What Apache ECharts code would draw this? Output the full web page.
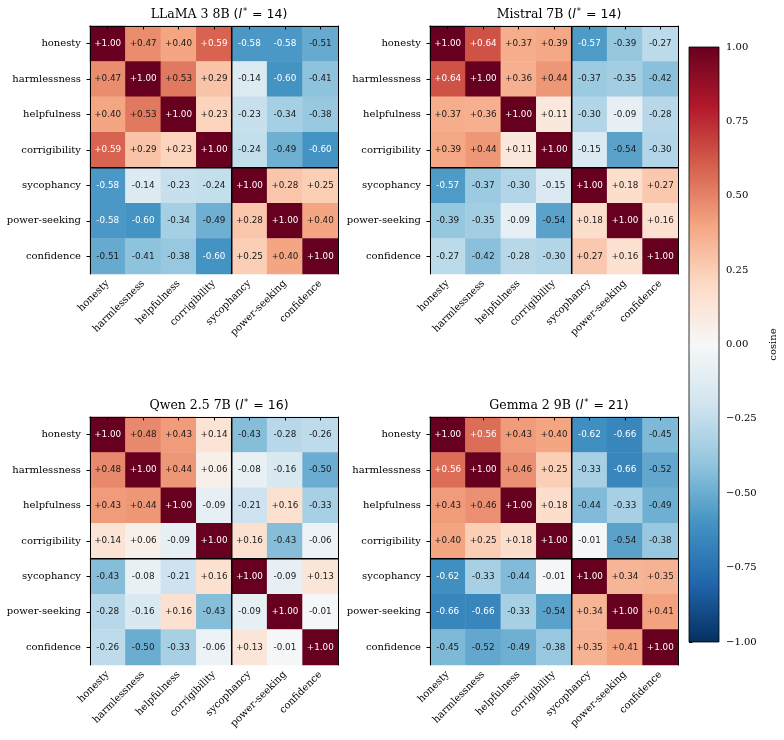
<!DOCTYPE html>
<html><head><meta charset="utf-8">
<script src="https://cdn.jsdelivr.net/npm/echarts@6/dist/echarts.min.js"></script>
<style>html,body{margin:0;padding:0;background:#fff}#c{width:784px;height:740px}</style>
</head><body><div id="c"></div>
<script>
const categories = ['honesty','harmlessness','helpfulness','corrigibility','sycophancy','power-seeking','confidence'];
const modelNames = ['LLaMA 3 8B','Mistral 7B','Qwen 2.5 7B','Gemma 2 9B'];
const bestLayers = [14, 14, 16, 21];
const llama = [
  [ 1.00, 0.47, 0.40, 0.59,-0.58,-0.58,-0.51],
  [ 0.47, 1.00, 0.53, 0.29,-0.14,-0.60,-0.41],
  [ 0.40, 0.53, 1.00, 0.23,-0.23,-0.34,-0.38],
  [ 0.59, 0.29, 0.23, 1.00,-0.24,-0.49,-0.60],
  [-0.58,-0.14,-0.23,-0.24, 1.00, 0.28, 0.25],
  [-0.58,-0.60,-0.34,-0.49, 0.28, 1.00, 0.40],
  [-0.51,-0.41,-0.38,-0.60, 0.25, 0.40, 1.00]];
const mistral = [
  [ 1.00, 0.64, 0.37, 0.39,-0.57,-0.39,-0.27],
  [ 0.64, 1.00, 0.36, 0.44,-0.37,-0.35,-0.42],
  [ 0.37, 0.36, 1.00, 0.11,-0.30,-0.09,-0.28],
  [ 0.39, 0.44, 0.11, 1.00,-0.15,-0.54,-0.30],
  [-0.57,-0.37,-0.30,-0.15, 1.00, 0.18, 0.27],
  [-0.39,-0.35,-0.09,-0.54, 0.18, 1.00, 0.16],
  [-0.27,-0.42,-0.28,-0.30, 0.27, 0.16, 1.00]];
const qwen = [
  [ 1.00, 0.48, 0.43, 0.14,-0.43,-0.28,-0.26],
  [ 0.48, 1.00, 0.44, 0.06,-0.08,-0.16,-0.50],
  [ 0.43, 0.44, 1.00,-0.09,-0.21, 0.16,-0.33],
  [ 0.14, 0.06,-0.09, 1.00, 0.16,-0.43,-0.06],
  [-0.43,-0.08,-0.21, 0.16, 1.00,-0.09, 0.13],
  [-0.28,-0.16, 0.16,-0.43,-0.09, 1.00,-0.01],
  [-0.26,-0.50,-0.33,-0.06, 0.13,-0.01, 1.00]];
const gemma = [
  [ 1.00, 0.56, 0.43, 0.40,-0.62,-0.66,-0.45],
  [ 0.56, 1.00, 0.46, 0.25,-0.33,-0.66,-0.52],
  [ 0.43, 0.46, 1.00, 0.18,-0.44,-0.33,-0.49],
  [ 0.40, 0.25, 0.18, 1.00,-0.01,-0.54,-0.38],
  [-0.62,-0.33,-0.44,-0.01, 1.00, 0.34, 0.35],
  [-0.66,-0.66,-0.33,-0.54, 0.34, 1.00, 0.41],
  [-0.45,-0.52,-0.49,-0.38, 0.35, 0.41, 1.00]];
const matrices = [llama, mistral, qwen, gemma];
const groupSplit = 4;   // first 4 traits vs last 3
const colorMin = -1, colorMax = 1, colorStep = 0.25;
const RdBu_r = ['#053061','#2166ac','#4393c3','#92c5de','#d1e5f0','#f7f7f7','#fddbc7','#f4a582','#d6604d','#b2182b','#67001f'];

const SERIF = 'DejaVu Serif', SANS = 'DejaVu Sans';
const panels = [{left:90, top:26}, {left:430, top:26}, {left:90, top:417}, {left:430, top:417}];
const size = 248;
const n = categories.length;
const cb = {left:689, top:47, width:30, height:595};

const grid = [], xAxis = [], yAxis = [], series = [], title = [];
panels.forEach((p, i) => {
  grid.push({left:p.left, top:p.top, width:size, height:size, containLabel:false});
  xAxis.push({type:'category', gridIndex:i, data:categories, position:'bottom', z:10,
    axisLine:{show:true, lineStyle:{color:'#000', width:1}},
    axisTick:{show:true, alignWithLabel:true, length:3.5, lineStyle:{color:'#000', width:1}},
    axisLabel:{rotate:45, margin:8, fontFamily:SERIF, fontSize:10, color:'#000', interval:0},
    splitLine:{show:false}});
  xAxis.push({type:'value', gridIndex:i, min:0, max:n, position:'top', z:10,
    axisLine:{show:true, onZero:false, lineStyle:{color:'#000', width:1}},
    axisTick:{show:false}, axisLabel:{show:false}, splitLine:{show:false}});
  yAxis.push({type:'category', gridIndex:i, data:categories, inverse:true, position:'left', z:10,
    axisLine:{show:true, lineStyle:{color:'#000', width:1}},
    axisTick:{show:true, alignWithLabel:true, length:3.5, lineStyle:{color:'#000', width:1}},
    axisLabel:{margin:9, fontFamily:SERIF, fontSize:10, color:'#000', interval:0},
    splitLine:{show:false}});
  yAxis.push({type:'value', gridIndex:i, min:0, max:n, inverse:true, position:'right', z:10,
    axisLine:{show:true, onZero:false, lineStyle:{color:'#000', width:1}},
    axisTick:{show:false}, axisLabel:{show:false}, splitLine:{show:false}});
  title.push({
    text:`{m|${modelNames[i]} }{p|(}{i|l}{s|*}{p| = ${bestLayers[i]})}`,
    left:p.left + size/2, textAlign:'center', top:p.top - 24,
    textStyle:{fontWeight:'normal', rich:{
      m:{fontFamily:SERIF, fontSize:12.5, fontWeight:'normal', color:'#000'},
      p:{fontFamily:SANS, fontSize:12.5, fontWeight:'normal', color:'#000'},
      i:{fontFamily:SANS, fontStyle:'italic', fontWeight:'normal', fontSize:12.5, color:'#000'},
      s:{fontFamily:SANS, fontSize:8.5, fontWeight:'normal', color:'#000', padding:[0,1,7,1]}
    }}
  });
});

matrices.forEach((m, i) => {
  const data = [];
  m.forEach((row, r) => row.forEach((v, c) => {
    data.push({value:[c, r, v], label:{color: Math.abs(v) >= 0.55 ? '#ffffff' : '#1a1a1a'}});
  }));
  series.push({type:'heatmap', xAxisIndex:2*i, yAxisIndex:2*i, data, z:2,
    itemStyle:{borderWidth:0},
    label:{show:true, fontFamily:SANS, fontSize:8.8,
      formatter: p => (p.value[2] > 0 ? '+' : '') + p.value[2].toFixed(2)},
    emphasis:{disabled:true}});
});
matrices.forEach((m, i) => {
  const ls = {color:'#000', width:1.5};
  series.push({type:'line', xAxisIndex:2*i+1, yAxisIndex:2*i+1, z:5, symbol:'none', silent:true,
    lineStyle:ls, data:[[groupSplit, 0], [groupSplit, n]]});
  series.push({type:'line', xAxisIndex:2*i+1, yAxisIndex:2*i+1, z:5, symbol:'none', silent:true,
    lineStyle:ls, data:[[0, groupSplit], [n, groupSplit]]});
});

// colorbar axis
grid.push({left:cb.left, top:cb.top, width:cb.width, height:cb.height});
xAxis.push({type:'value', gridIndex:4, show:false, min:0, max:1});
yAxis.push({type:'value', gridIndex:4, min:colorMin, max:colorMax, interval:colorStep, position:'right',
  axisLine:{show:false}, splitLine:{show:false},
  axisTick:{show:true, length:3.5, lineStyle:{color:'#000', width:1}},
  axisLabel:{margin:7, fontFamily:SERIF, fontSize:10, color:'#000',
    formatter: v => v.toFixed(2).replace('-', '\u2212')},
  name:'cosine', nameLocation:'middle', nameRotate:90, nameGap:49,
  nameTextStyle:{fontFamily:SERIF, fontSize:10, color:'#000'}});
series.push({type:'line', xAxisIndex:4*2, yAxisIndex:4*2, data:[], silent:true});

const stops = RdBu_r.map((c, k) => ({offset: 1 - k/(RdBu_r.length-1), color:c}));

const chart = echarts.init(document.getElementById('c'), null, {renderer:'canvas'});
chart.setOption({
  animation:false,
  backgroundColor:'#fff',
  title, grid, xAxis, yAxis, series,
  visualMap:{type:'continuous', show:false, min:colorMin, max:colorMax,
    seriesIndex:[0,1,2,3], inRange:{color:RdBu_r}},
  graphic:[{type:'rect', shape:{x:cb.left, y:cb.top, width:cb.width, height:cb.height},
    style:{fill:{type:'linear', x:0, y:0, x2:0, y2:1, colorStops:stops.slice().reverse()}, stroke:'#000', lineWidth:0.8}, z:1}]
});
</script></body></html>
